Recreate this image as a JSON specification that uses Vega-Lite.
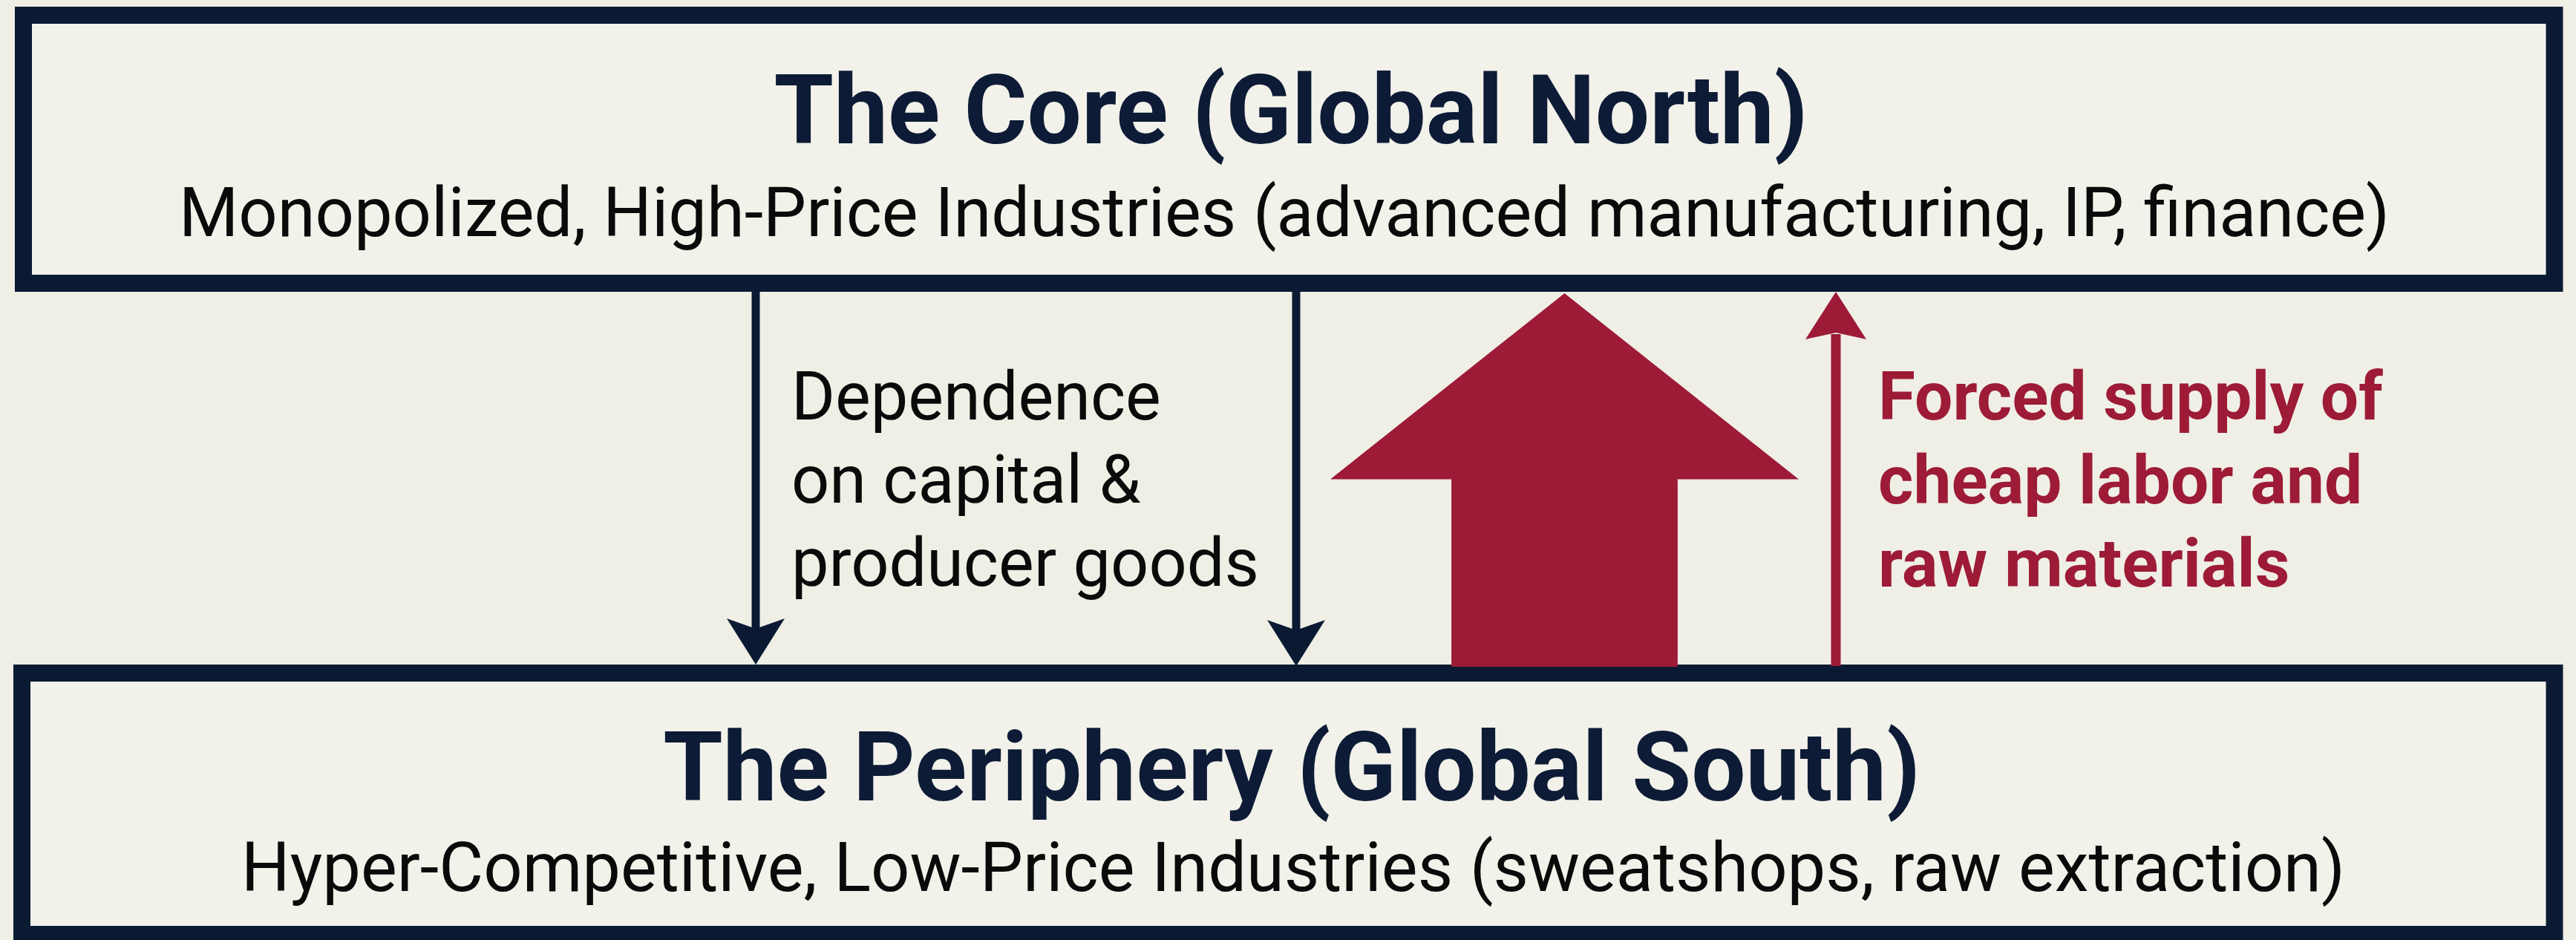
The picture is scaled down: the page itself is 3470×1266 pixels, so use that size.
{
  "$schema": "https://vega.github.io/schema/vega-lite/v6.json",
  "width": 3470,
  "height": 1266,
  "padding": 0,
  "autosize": {"type": "none"},
  "background": "#efefe6",
  "config": {"view": {"stroke": null}, "text": {"font": "Roboto"}},
  "datasets": {
    "boxes": [
      {"box": "core", "x1": 31.5, "x2": 3441, "y1": 20.5, "y2": 381.5},
      {"box": "periphery", "x1": 29.5, "x2": 3441, "y1": 906.5, "y2": 1258.5}
    ],
    "downArrows": [
      {"arrow": "left", "x": 1018, "top": 390, "bottom": 850, "head": 864},
      {"arrow": "right", "x": 1746, "top": 390, "bottom": 850, "head": 866}
    ],
    "bigArrow": [{"arrow": "big", "x": 2107.5, "y": 645.5}],
    "upArrow": [{"arrow": "thin", "x": 2473, "top": 450, "bottom": 897, "head": 425}],
    "titles": [
      {"label": "The Core (Global North)", "x": 1739, "y": 193},
      {"label": "The Periphery (Global South)", "x": 1740, "y": 1078}
    ],
    "subtitles": [
      {"label": "Monopolized, High-Price Industries (advanced manufacturing, IP, finance)", "x": 1730, "y": 318},
      {"label": "Hyper-Competitive, Low-Price Industries (sweatshops, raw extraction)", "x": 1742, "y": 1200}
    ],
    "depText": [
      {"label": "Dependence", "x": 1066, "y": 565},
      {"label": "on capital &", "x": 1066, "y": 677},
      {"label": "producer goods", "x": 1066, "y": 789}
    ],
    "forcedText": [
      {"label": "Forced supply of", "x": 2530, "y": 565},
      {"label": "cheap labor and", "x": 2530, "y": 678},
      {"label": "raw materials", "x": 2530, "y": 790}
    ]
  },
  "layer": [
    {
      "data": {"name": "boxes"},
      "mark": {"type": "rect", "fill": "#f2f2ea", "stroke": "#0b1a33", "strokeWidth": 23},
      "encoding": {
        "x": {"field": "x1", "type": "quantitative", "scale": {"domain": [0, 3470], "nice": false, "zero": false}, "axis": null},
        "x2": {"field": "x2"},
        "y": {"field": "y1", "type": "quantitative", "scale": {"domain": [1266, 0], "nice": false, "zero": false}, "axis": null},
        "y2": {"field": "y2"}
      }
    },
    {
      "data": {"name": "downArrows"},
      "mark": {"type": "rule", "color": "#0b1a33", "strokeWidth": 11},
      "encoding": {
        "x": {"field": "x", "type": "quantitative"},
        "y": {"field": "top", "type": "quantitative"},
        "y2": {"field": "bottom"}
      }
    },
    {
      "data": {"name": "downArrows"},
      "mark": {"type": "point", "filled": true, "opacity": 1, "color": "#0b1a33", "strokeWidth": 0, "size": 6084, "shape": "M0,0.795 L-1,-0.795 L0,-0.44 L1,-0.795 Z"},
      "encoding": {
        "x": {"field": "x", "type": "quantitative"},
        "y": {"field": "head", "type": "quantitative"}
      }
    },
    {
      "data": {"name": "bigArrow"},
      "mark": {"type": "point", "filled": true, "opacity": 1, "color": "#9d1b37", "strokeWidth": 0, "size": 398161, "shape": "M0,-0.794 L1,0 L0.483,0 L0.483,0.8 L-0.483,0.8 L-0.483,0 L-1,0 Z"},
      "encoding": {
        "x": {"field": "x", "type": "quantitative"},
        "y": {"field": "y", "type": "quantitative"}
      }
    },
    {
      "data": {"name": "upArrow"},
      "mark": {"type": "rule", "color": "#9d1b37", "strokeWidth": 13},
      "encoding": {
        "x": {"field": "x", "type": "quantitative"},
        "y": {"field": "top", "type": "quantitative"},
        "y2": {"field": "bottom"}
      }
    },
    {
      "data": {"name": "upArrow"},
      "mark": {"type": "point", "filled": true, "opacity": 1, "color": "#9d1b37", "strokeWidth": 0, "size": 6724, "shape": "M0,-0.78 L1,0.78 L0,0.56 L-1,0.78 Z"},
      "encoding": {
        "x": {"field": "x", "type": "quantitative"},
        "y": {"field": "head", "type": "quantitative"}
      }
    },
    {
      "data": {"name": "titles"},
      "mark": {"type": "text", "font": "Roboto", "fontWeight": "bold", "fontSize": 130, "color": "#0d1b36", "align": "center", "baseline": "alphabetic"},
      "encoding": {
        "x": {"field": "x", "type": "quantitative"},
        "y": {"field": "y", "type": "quantitative"},
        "text": {"field": "label"}
      }
    },
    {
      "data": {"name": "subtitles"},
      "mark": {"type": "text", "font": "Roboto", "fontSize": 92, "color": "#0a0a0a", "align": "center", "baseline": "alphabetic"},
      "encoding": {
        "x": {"field": "x", "type": "quantitative"},
        "y": {"field": "y", "type": "quantitative"},
        "text": {"field": "label"}
      }
    },
    {
      "data": {"name": "depText"},
      "mark": {"type": "text", "font": "Roboto", "fontSize": 90, "color": "#0a0a0a", "align": "left", "baseline": "alphabetic"},
      "encoding": {
        "x": {"field": "x", "type": "quantitative"},
        "y": {"field": "y", "type": "quantitative"},
        "text": {"field": "label"}
      }
    },
    {
      "data": {"name": "forcedText"},
      "mark": {"type": "text", "font": "Roboto", "fontWeight": "bold", "fontSize": 91, "color": "#9d1b37", "align": "left", "baseline": "alphabetic"},
      "encoding": {
        "x": {"field": "x", "type": "quantitative"},
        "y": {"field": "y", "type": "quantitative"},
        "text": {"field": "label"}
      }
    }
  ]
}
